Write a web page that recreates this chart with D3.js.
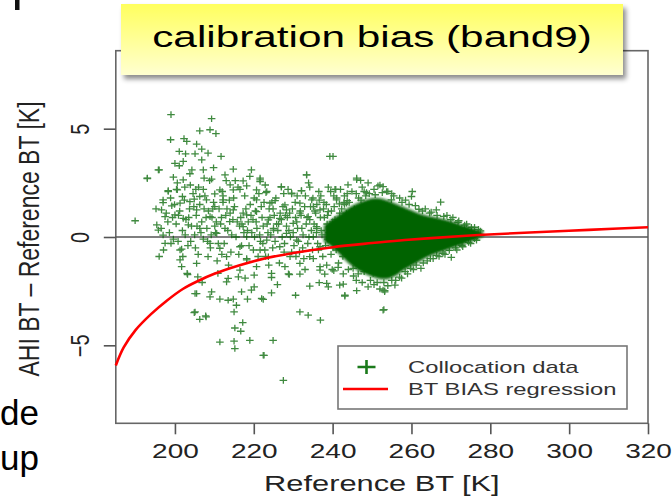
<!DOCTYPE html>
<html><head><meta charset="utf-8">
<script src="https://cdn.jsdelivr.net/npm/d3@7"></script>
<style>
html,body{margin:0;padding:0;background:#fff;}
svg{display:block;font-family:"Liberation Sans",Arial,Helvetica,sans-serif;}
</style></head>
<body>
<svg id="chart" width="672" height="498"></svg>
<script>
// ---------- data ----------
const chartTitle = "calibration bias (band9)";
const xLabel = "Reference BT [K]";
const yLabel = "AHI BT \u2013 Reference BT [K]";
const xTicks = [200, 220, 240, 260, 280, 300, 320];
const yTicks = [-5, 0, 5];
const legendLabels = ["Collocation data", "BT BIAS regression"];
const sideText = ["de", "up"];

// sparse collocation points [Reference BT, bias]
const sparsePoints = [
 [199.0,5.65],[209.3,5.46],[206.3,4.9],[208.9,4.95],[210.4,4.77],[198.9,4.49],[202.3,4.54],[203.0,4.41],
 [205.5,4.29],[206.8,4.06],[201.1,3.95],[202.7,3.84],[205.1,3.84],[208.4,3.87],[211.7,3.72],[202.1,3.49],
 [206.8,3.56],[201.1,3.29],[195.8,3.1],[193.0,2.72],[207.2,3.1],[203.8,2.92],[214.8,3.13],[219.4,3.1],
 [199.6,2.76],[202.1,2.64],[207.4,2.72],[209.3,2.67],[212.7,2.87],[217.3,2.59],[221.6,2.72],[198.3,2.14],
 [200.4,2.2],[202.5,2.3],[205.3,2.2],[207.2,2.2],[210.1,1.99],[214.0,2.41],[216.5,2.2],[218.2,2.36],
 [220.7,2.18],[201.9,1.87],[204.9,1.75],[212.2,1.9],[197.0,1.59],[189.9,0.75],
 [195.8,0.32],[197.5,-0.29],[201.7,-0.56],[201.3,-1.06],[201.7,-1.37],[203.2,-1.73],[205.8,-1.84],[206.9,-2.1],
 [205.1,-2.61],[209.3,-2.53],[208.9,-2.76],[211.4,-2.87],[213.5,-2.92],[214.8,-2.87],[215.6,-3.15],[218.4,-2.87],
 [216.9,-2.53],[219.4,-2.45],[220.1,-2.3],[213.5,-1.91],[216.1,-1.84],[220.1,-1.76],[204.9,-3.49],[206.3,-3.8],
 [207.8,-3.64],[215.0,-3.46],[217.2,-3.95],[215.2,-4.2],[216.7,-4.35],[211.4,-4.85],[215.0,-4.81],[219.0,-4.77],
 [215.2,-5.15],[222.4,-5.46],[222.0,-2.84],
 [239.3,3.72],[233.4,2.87],[246.1,2.72],[247.1,2.61],[243.9,2.41],[227.0,2.3],[240.8,2.2],[232.1,2.13],
 [223.1,2.05],[229.6,1.99],[251.5,2.36],[243.7,1.68],[241.7,1.53],[234.7,1.71],[225.4,1.68],[221.6,2.56],
 [248.6,2.05],[253.7,2.1],[254.9,1.71],[238.9,1.17],[231.7,1.1],[227.9,1.48],
 [224.5,-1.87],[229.0,-1.73],[231.7,-1.71],[234.2,-2.27],[224.5,-2.58],[222.4,-2.88],[230.6,-2.69],[236.6,-2.11],
 [238.9,-2.3],[242.7,-2.18],[243.1,-2.73],[246.1,-2.48],[253.2,-2.48],[255.8,-2.22],[253.0,-3.35],[231.7,-3.46],
 [233.8,-3.61],[236.9,-3.84],[224.9,-4.77],[222.6,-5.46],[227.5,-6.62],[238.0,-1.71],[240.3,-1.56],[236.8,-1.53],
 [260.2,2.1],[260.0,1.87],[267.4,1.61],[266.3,1.25],[261.9,1.28],[252.8,2.33],[253.2,-2.53],[262.4,-1.45],
 [270.1,-0.94],[252.8,-3.38],[252.8,-2.45],[250.3,-1.68],[245.2,-1.45],[241.8,-2.22],[243.1,-2.69],[238.5,-2.14]
];

// dense band of collocation points [Reference BT, bias]
const bandPoints = [
 [196.0,3.1],[193.0,2.7],[198.3,2.1],[200.6,2.18],[196.6,1.25],[197.0,1.71],[199.2,1.44],[201.3,1.56],
 [195.4,0.56],[197.5,0.94],[200.0,1.02],[202.1,0.86],[197.0,0.09],[201.3,-0.6],[203.1,-1.68],[205.5,-2.61],
 [205.1,-3.46],[207.9,-3.69],[203.8,1.63],[205.5,1.25],[206.3,1.87],[203.4,0.56],[206.3,0.4],[208.9,0.94],
 [210.1,1.4],[208.0,1.71],[212.2,1.71],[211.4,2.18],[214.8,2.18],[214.8,1.25],[213.9,0.71],[210.6,0.17],
 [208.9,-0.29],[211.4,-0.52],[213.1,-0.91],[208.4,-0.91],[205.5,-1.22],[210.9,-1.68],[213.1,-2.07],[216.5,-1.53],
 [218.2,-1.06],[216.5,-0.45],[218.2,0.01],[217.3,0.48],[218.2,1.02],[220.7,1.17],[220.7,1.71],[221.6,2.64],
 [223.3,2.1],[224.1,1.56],[223.7,0.79],[225.0,0.32],[223.3,-0.14],[221.6,-0.6],[223.7,-0.91],[220.7,-1.37],
 [224.5,-1.68],[227.0,2.33],[229.6,2.02],[231.7,1.56],[228.3,1.25],[226.6,0.86],[230.0,0.63],[228.3,0.17],
 [230.9,-0.14],[226.6,-0.45],[229.2,-0.91],[231.7,-1.22],[227.9,-1.37],[233.4,2.87],[232.1,2.14],[235.1,1.4],
 [233.8,0.94],[236.8,1.25],[235.9,0.48],[235.1,0.01],[236.8,-0.45],[234.2,-0.91],[236.8,-1.37],[240.1,3.72],
 [240.6,2.2],[241.0,1.71],[243.5,1.56],[246.1,2.64],
 [196.5,0.4],[197.8,1.1],[198.6,0.2],[199.4,0.9],[199.9,1.5],[200.3,0.6],[200.8,-0.2],[201.2,1.2],
 [201.9,0.3],[202.4,1.7],[202.8,0.8],[203.3,-0.4],[203.7,1.3],[204.2,0.5],[204.6,2.0],[205.0,0.1],
 [205.4,1.0],[205.9,-0.8],[206.3,1.5],[206.8,0.7],[207.2,-0.1],[207.6,1.9],[208.1,0.4],[208.5,1.2],
 [209.0,-0.5],[209.4,0.9],[209.8,1.6],[210.3,0.2],[210.7,-1.1],[211.2,1.3],[211.6,0.6],[212.0,2.1],
 [212.5,-0.3],[212.9,1.0],[213.4,0.3],[213.8,1.7],[214.2,-0.7],[214.7,0.8],[215.1,1.4],[215.5,0.0],
 [216.0,2.3],[216.4,0.5],[216.9,-0.4],[217.3,1.1],[217.7,1.9],[218.2,-1.0],[218.6,0.7],[219.1,1.5],
 [219.5,0.2],[219.9,-0.6],[220.4,1.2],[220.8,0.4],[221.3,2.0],[221.7,-0.2],[222.1,0.9],[222.6,1.6],
 [223.0,-0.9],[223.4,0.6],[223.9,1.3],[224.3,0.1],[224.8,-0.5],[225.2,1.0],[225.6,1.8],[226.1,0.3],
 [226.5,-1.2],[227.0,0.8],[227.4,1.4],[227.8,-0.3],[228.3,0.5],[228.7,2.2],[229.1,1.1],[229.6,-0.7],
 [230.0,0.2],[230.5,1.6],[230.9,0.7],[231.3,-0.2],[231.8,1.2],[232.2,0.4],[232.7,-1.0],[233.1,1.9],
 [233.5,0.9],[234.0,0.0],[234.4,1.4],[234.9,-0.6],[235.3,0.6],[235.7,1.1],[236.2,-0.3],[236.6,1.7],
 [237.1,0.3],[237.5,-0.9],[237.9,0.9],[238.4,1.5],[238.8,-0.1],[239.3,0.5],[239.7,1.2],[240.1,-0.5],
 [240.6,0.8],[241.0,1.8],[241.5,-1.2],[241.9,0.2],[242.3,1.3],[242.8,-0.3],[243.2,0.6],[243.7,2.0],
 [244.1,-0.8],[244.5,1.0],
 [195.2,1.3],[197.1,-0.6],[198.9,1.8],[200.6,2.5],[202.0,-0.9],[203.9,2.4],[205.6,0.5],[207.4,1.3],
 [208.8,2.6],[210.5,0.7],[212.2,1.6],[213.6,-1.3],[215.3,2.6],[216.7,0.9],[218.4,0.3],[220.1,1.8],
 [221.5,0.1],[222.9,2.4],[224.6,1.6],[226.3,0.6],[227.6,2.0],[229.3,0.0],[231.0,1.9],[232.4,-0.5],
 [234.2,2.3],[235.9,0.2],[237.7,1.3],[239.5,2.1],[241.2,0.4],[242.9,1.6],[244.3,0.3],[196.0,-0.9],
 [199.0,-0.3],[204.0,-0.2],[206.0,2.3],[209.2,0.1],[211.9,-0.8],[214.0,1.1],[217.0,0.6],[219.8,0.8],
 [222.3,-0.3],[225.0,0.4],[228.0,1.0],[230.7,-0.9],[233.3,0.6],[236.0,1.5],[238.6,0.6],[240.8,-0.2],
 [243.5,1.1],
 [198.2,0.7],[199.6,-0.1],[200.9,1.0],[202.6,0.1],[203.5,0.9],[204.8,1.4],[205.2,-0.5],[206.6,0.2],
 [207.9,0.9],[208.3,-0.2],[209.6,1.3],[210.1,0.5],[211.0,-0.3],[211.8,0.9],[212.7,0.4],[213.2,1.3],
 [214.4,0.1],[214.9,1.8],[215.8,0.7],[216.2,-0.8],[217.5,0.2],[218.0,1.3],[218.8,-0.4],[219.3,1.0],
 [220.2,0.0],[220.6,0.7],[221.1,-0.9],[221.9,1.4],[222.4,0.5],[222.8,-0.6],[223.6,0.2],[224.1,0.9],
 [224.9,1.3],[225.4,-0.2],[225.8,0.6],[226.7,1.1],[227.2,0.0],[227.7,-0.7],[228.5,0.9],[228.9,0.3],
 [229.8,1.3],[230.2,-0.4],[230.6,0.9],[231.1,0.4],[231.6,-0.7],[232.0,1.0],[232.5,0.1],[232.9,1.4],
 [233.7,-0.3],[234.2,0.8],[234.6,0.3],[235.1,-1.0],[235.5,1.2],[236.0,0.4],[236.4,-0.6],[236.9,0.9],
 [237.3,0.1],[237.8,1.6],[238.2,-0.4],[238.7,1.0],[239.1,0.2],[239.6,-0.8],[240.0,0.7],[240.4,1.4],
 [240.9,-0.6],[241.3,0.5],[241.8,1.1],[242.2,-0.1],[242.6,-0.9],[243.0,1.5],[243.4,0.3],[243.9,-0.4],
 [244.2,1.6],[244.7,0.6],[245.1,-1.0],[245.5,1.3],[245.9,-0.3],[246.3,0.9],[246.8,-1.3],[247.2,1.7],
 [247.6,0.1],[248.0,-1.6],[248.4,1.9],[238.5,-1.3],[239.9,-1.5],[241.4,-1.4],[242.7,-1.7],[244.0,-1.5],
 [245.3,-1.8],[246.5,-1.7],[237.0,1.9],[238.9,2.3],[240.3,1.9],[242.0,2.2],[243.0,1.9],[244.9,2.1],
 [246.6,1.8],[248.0,2.1],[249.3,2.0],[250.8,1.95],[252.6,2.05],[255.0,2.0],[257.6,1.6],[259.4,1.5],
 [261.0,1.45],[262.8,1.2],[264.6,1.1],[266.5,1.0],[268.2,0.95],[270.0,0.8],[271.8,0.68],[273.5,0.55],
 [275.2,0.45],[277.5,0.28],[249.6,-2.0],[251.3,-2.1],[253.0,-2.1],[255.0,-2.0],[257.0,-1.85],[258.4,-1.6],
 [259.8,-1.45],[261.2,-1.3],[263.0,-1.2],[264.8,-1.0],[266.4,-0.85],[268.0,-0.75],[269.6,-0.62],[271.2,-0.5],
 [272.8,-0.38],[274.5,-0.25],[276.0,-0.08],[236.5,2.1],[235.0,1.8],[233.9,2.5],[219.0,2.8],[213.0,2.6],
 [209.8,3.2],[204.3,3.1],[200.0,3.4],[217.8,-1.9],[223.8,-1.3],[228.8,-1.7],[233.0,-1.5],[226.0,-2.2],
 [246.0,2.0],[247.5,2.3],[249.0,2.5],[250.5,2.2],[252.0,2.4],[254.0,2.1],[255.5,1.9],[257.0,1.8],
 [258.5,1.7],[263.5,1.3],[265.0,1.15],[269.0,1.0],[270.5,0.9],[272.0,0.75],[274.0,0.6],[276.0,0.45],
 [277.0,0.35],
 [246.0,-2.0],[247.5,-2.1],[249.0,-2.3],[250.5,-2.2],[252.0,-2.4],[254.0,-2.25],[256.0,-2.0],[257.5,-1.9],
 [259.0,-1.7],[260.5,-1.5],[264.0,-1.1],[265.5,-1.0],[267.0,-0.9],[268.5,-0.8],[271.5,-0.6],[273.0,-0.45],
 [275.0,-0.3],[276.5,-0.15]
];

// envelope of the saturated core of the collocation cloud
const blobBT    = [238, 240, 242, 244, 246, 248, 250, 252, 254, 256, 258, 260, 262, 264, 266, 268, 270, 272, 274, 276, 278];
const blobUpper = [0.5, 0.8, 1.05, 1.3, 1.5, 1.65, 1.75, 1.75, 1.65, 1.5, 1.35, 1.2, 1.05, 0.95, 0.88, 0.8, 0.7, 0.58, 0.47, 0.36, 0.2];
const blobLower = [-0.2, -0.45, -0.8, -1.15, -1.45, -1.65, -1.8, -1.9, -1.9, -1.75, -1.5, -1.3, -1.1, -0.9, -0.75, -0.63, -0.5, -0.38, -0.25, -0.1, 0.05];

// BT BIAS regression curve
const regressionBT   = [185, 187, 190, 194, 198, 202, 206, 210, 216, 223, 230, 240, 250, 257, 265, 277, 290, 305, 320];
const regressionBias = [-5.93, -5.1, -4.3, -3.55, -2.93, -2.4, -2.02, -1.7, -1.33, -0.98, -0.74, -0.47, -0.28, -0.16, -0.05, 0.09, 0.21, 0.33, 0.45];

// ---------- drawing ----------
const svg = d3.select("#chart");
const FONT = '"Liberation Sans",Arial,Helvetica,sans-serif';
const SX = 1.4; // horizontal stretch of the original image

const x = d3.scaleLinear().domain([185, 320]).range([115.8, 648]);
const y = d3.scaleLinear().domain([-8.6, 8.6]).range([423.3, 50.7]);

const defs = svg.append("defs");
const grad = defs.append("linearGradient").attr("id","tg").attr("x1",0).attr("y1",0).attr("x2",0).attr("y2",1);
grad.append("stop").attr("offset","0%").attr("stop-color","#ffff5e");
grad.append("stop").attr("offset","100%").attr("stop-color","#ffffd0");
const filt = defs.append("filter").attr("id","sh").attr("x","-10%").attr("y","-30%").attr("width","130%").attr("height","180%");
filt.append("feDropShadow").attr("dx",3).attr("dy",4).attr("stdDeviation",2.5).attr("flood-color","#000").attr("flood-opacity",0.45);
const soft = defs.append("filter").attr("id","soft").attr("x","-5%").attr("y","-10%").attr("width","110%").attr("height","120%");
soft.append("feGaussianBlur").attr("stdDeviation",0.8);

// side fragments
svg.append("rect").attr("x",15).attr("y",0).attr("width",4.5).attr("height",10).attr("fill","#111");
sideText.forEach((t,i)=>{
  svg.append("text").text(t).attr("font-family",FONT).attr("font-size",35).attr("fill","#000")
    .attr("transform",`translate(0,${425+i*45})`);
});

// plot box
svg.append("rect").attr("x",x(185)).attr("y",y(8.6)).attr("width",x(320)-x(185)).attr("height",y(-8.6)-y(8.6))
  .attr("fill","none").attr("stroke","#666").attr("stroke-width",1.6);

// zero line
svg.append("line").attr("x1",x(185)).attr("x2",x(320)).attr("y1",y(0)).attr("y2",y(0))
  .attr("stroke","#555").attr("stroke-width",1.3);

// axes
const gx = svg.append("g").attr("transform",`translate(0,${y(-8.6)})`)
  .call(d3.axisBottom(x).tickValues(xTicks).tickSize(11).tickPadding(10).tickFormat(d3.format("d")));
gx.select(".domain").remove();
gx.selectAll(".tick line").attr("stroke","#555").attr("stroke-width",1.6);
gx.selectAll(".tick text").attr("font-family",FONT).attr("font-size",20).attr("fill","#222")
  .attr("transform",`scale(${SX},1)`);

const gy = svg.append("g").attr("transform",`translate(${x(185)},0)`)
  .call(d3.axisLeft(y).tickValues(yTicks).tickSize(12).tickFormat(d=>d<0?"\u2212"+Math.abs(d):d));
gy.select(".domain").remove();
gy.selectAll(".tick line").attr("stroke","#555").attr("stroke-width",1.6);
gy.selectAll(".tick text").attr("x",null).attr("dy",null).attr("text-anchor","middle")
  .attr("font-family",FONT).attr("font-size",20).attr("fill","#222")
  .attr("transform",`translate(-27,0) scale(1.3,1) rotate(-90)`);

// axis titles
svg.append("text").text(xLabel).attr("font-family",FONT).attr("font-size",22).attr("fill","#222")
  .attr("text-anchor","middle").attr("transform",`translate(${x(252.5)},491) scale(${SX},1)`);
svg.append("text").text(yLabel).attr("font-family",FONT).attr("font-size",23).attr("fill","#222")
  .attr("text-anchor","middle").attr("transform",`translate(39,239) scale(1.3,1) rotate(-90)`);

// points
const cross = (g, px, py, w, h) => g.append("path").attr("d",`M${px-w},${py}H${px+w}M${px},${py-h}V${py+h}`);
const gp = svg.append("g").attr("stroke","#006400").attr("stroke-width",1.3).attr("fill","none").attr("opacity",0.75);
bandPoints.concat(sparsePoints).forEach(p => cross(gp, x(p[0]), y(p[1]), 3.8, 3.3));

// saturated core
const blobData = blobBT.map((b,i)=>({b, u:blobUpper[i], l:blobLower[i]}));
svg.append("path").datum(blobData)
  .attr("d", d3.area().x(d=>x(d.b)).y0(d=>y(d.l)).y1(d=>y(d.u)).curve(d3.curveCatmullRom))
  .attr("fill","#006400").attr("stroke","#0c690c").attr("stroke-width",3).attr("stroke-opacity",0.55)
  .attr("filter","url(#soft)");

// regression curve
svg.append("path").datum(regressionBT.map((b,i)=>[b, regressionBias[i]]))
  .attr("d", d3.line().x(d=>x(d[0])).y(d=>y(d[1])).curve(d3.curveCatmullRom))
  .attr("fill","none").attr("stroke","#ff0000").attr("stroke-width",2.6);

// legend
const lg = svg.append("g");
lg.append("rect").attr("x",338).attr("y",346).attr("width",289).attr("height",63)
  .attr("fill","#fff").attr("stroke","#777").attr("stroke-width",1.6);
const lgc = lg.append("g").attr("stroke","#1b7a1b").attr("stroke-width",2.6);
cross(lgc, 366.5, 367, 9, 7);
lg.append("line").attr("x1",343).attr("x2",388).attr("y1",389).attr("y2",389).attr("stroke","#ff0000").attr("stroke-width",2.6);
legendLabels.forEach((t,i)=>{
  lg.append("text").text(t).attr("font-family",FONT).attr("font-size",17).attr("fill","#333")
    .attr("transform",`translate(408,${373+i*22}) scale(${SX},1)`);
});

// title box
svg.append("rect").attr("x",121).attr("y",4).attr("width",502).attr("height",71)
  .attr("fill","url(#tg)").attr("filter","url(#sh)");
svg.append("text").text(chartTitle).attr("font-family",FONT).attr("font-size",30).attr("fill","#000")
  .attr("text-anchor","middle").attr("transform",`translate(372,47) scale(1.41,1)`);
</script>
</body></html>
